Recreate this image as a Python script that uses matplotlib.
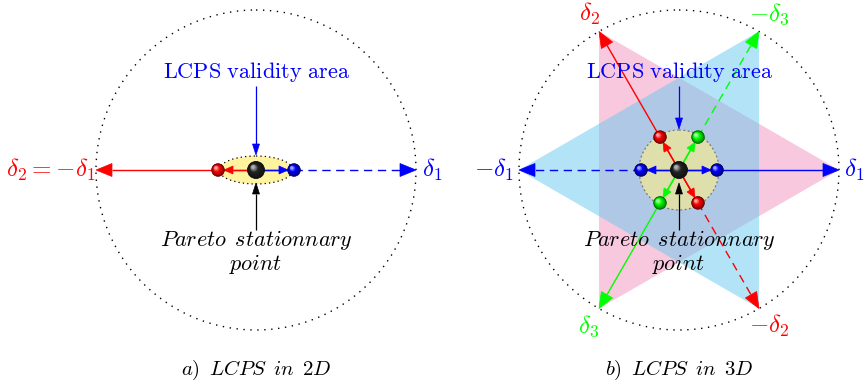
import numpy as np
import matplotlib.pyplot as plt
from matplotlib.patches import Circle, Ellipse, Polygon
from matplotlib.colors import to_rgb

plt.rcParams['mathtext.fontset'] = 'cm'

# layout of the two panels (pixel units, y grows downwards)
panel_x = [256, 679]
panel_y = 170
outer_radius = 160
ball_offset = 38
validity_radius = 40
ellipse_size = (74, 28)

# directions in 3D panel: angle, colour, label of + and - directions
dir_angles = [0, 120, 240]
dir_colors = ['blue', 'red', 'lime']
dir_labels = [r'$\delta_1$', r'$\delta_2$', r'$\delta_3$']
neg_labels = [r'$-\delta_1$', r'$-\delta_2$', r'$-\delta_3$']

fig = plt.figure(figsize=(8.65, 3.88), dpi=100)
ax = fig.add_axes([0, 0, 1, 1])
ax.set_xlim(0, 865)
ax.set_ylim(388, 0)
ax.set_aspect('equal')
ax.axis('off')


def unit(angle):
    a = np.deg2rad(angle)
    return np.array([np.cos(a), -np.sin(a)])


def head(tip, u, length, width, color, z=5):
    n = np.array([-u[1], u[0]])
    base = tip - length * u
    ax.add_patch(Polygon([tip, base + n * width / 2, base - n * width / 2],
                         closed=True, fc=color, ec=color, lw=0.5, zorder=z))
    return base


def arrow(p0, p1, color, ls='-', length=16, width=13, lw=1.0, z=4):
    p0, p1 = np.asarray(p0, float), np.asarray(p1, float)
    u = (p1 - p0) / np.linalg.norm(p1 - p0)
    base = head(p1, u, length, width, color, z + 0.5)
    ax.plot([p0[0], base[0]], [p0[1], base[1]], color=color, ls=ls, lw=lw,
            zorder=z, solid_capstyle='butt', dash_capstyle='butt')


def ball(x, y, r, color):
    c = np.array(to_rgb(color))
    n = 12
    for i in range(n):
        f = i / (n - 1)
        rr = r * (1 - 0.8 * f)
        if f < 0.6:
            shade = c * (0.55 + 0.75 * f)
        else:
            shade = c + (1 - c) * (f - 0.6) * 1.6
        shade = np.clip(shade, 0, 1)
        ax.add_patch(Circle((x - 0.35 * r * f, y - 0.35 * r * f), rr,
                            fc=shade, ec='none', zorder=8 + i * 0.01))
    ax.add_patch(Circle((x, y), r, fc='none', ec=c * 0.4, lw=0.6, zorder=8.5))


def outer_circle(cx):
    ax.add_patch(Circle((cx, panel_y), outer_radius, fc='none', ec='black',
                        lw=1.0, ls=(0, (1, 4)), zorder=3))


def annotations(cx, top_tip, bottom_tip):
    ax.text(cx, 72, r'$\mathrm{LCPS\ validity\ area}$', color='blue',
            fontsize=16, ha='center', va='center', zorder=10)
    arrow((cx, 86), (cx, top_tip), 'blue', length=11, width=7, lw=0.9, z=9)
    ax.text(cx, 240, r'$\mathit{Pareto\,\ stationnary}$', fontsize=16,
            ha='center', va='center', zorder=10)
    ax.text(cx, 264, r'$\mathit{point}$', fontsize=16, ha='center', va='center',
            zorder=10)
    arrow((cx, 230), (cx, bottom_tip), 'black', length=11, width=7, lw=0.9, z=9)


# ---- a) LCPS in 2D ----
cx = panel_x[0]
outer_circle(cx)
ax.add_patch(Ellipse((cx, panel_y), *ellipse_size, fc='#fff3a0', ec='none', zorder=2))
ax.add_patch(Ellipse((cx, panel_y), *ellipse_size, fc='none', ec='black',
                     lw=0.9, ls=(0, (1, 2.5)), zorder=2.5))
c0 = np.array([cx, panel_y], float)
arrow(c0, c0 + outer_radius * unit(180), 'red')
arrow(c0 + ball_offset * unit(0), c0 + outer_radius * unit(0), 'blue', ls=(0, (6, 4)))
ax.plot([c0[0], c0[0] + ball_offset], [panel_y, panel_y], color='blue', lw=1.0, zorder=4)
for ang, col in [(180, 'red'), (0, 'blue')]:
    arrow(c0, c0 + (ball_offset - 6) * unit(ang), col, length=9, width=8, z=6)
    p = c0 + ball_offset * unit(ang)
    ball(p[0], p[1], 6.3, col)
ball(cx, panel_y, 8.5, '#222222')
ax.text(cx - outer_radius - 1, panel_y, r'$\delta_2 = -\delta_1$', color='red',
        fontsize=18, ha='right', va='center')
ax.text(cx + outer_radius + 6, panel_y, r'$\delta_1$', color='blue',
        fontsize=18, ha='left', va='center')
annotations(cx, panel_y - 15, panel_y + 13)
ax.text(cx, 370, r'$\mathit{a)\,\ LCPS\,\ in\,\ 2D}$', fontsize=15,
        ha='center', va='center')

# ---- b) LCPS in 3D ----
cx = panel_x[1]
c0 = np.array([cx, panel_y], float)
pos_tri = [c0 + outer_radius * unit(a) for a in dir_angles]
neg_tri = [c0 + outer_radius * unit(a + 180) for a in dir_angles]
ax.add_patch(Polygon(pos_tri, closed=True, fc='#f7c8de', ec='none', zorder=1))
ax.add_patch(Polygon(neg_tri, closed=True, fc='#69c9ef', ec='none', alpha=0.5, zorder=1.1))
outer_circle(cx)
ax.add_patch(Circle((cx, panel_y), validity_radius, fc='#fff082', alpha=0.6,
                    ec='none', zorder=2))
ax.add_patch(Circle((cx, panel_y), validity_radius, fc='none', ec='#777777',
                    lw=0.9, ls=(0, (1.5, 2)), zorder=2.5))

for ang, col, lab, nlab in zip(dir_angles, dir_colors, dir_labels, neg_labels):
    for a, ls, text in [(ang, '-', lab), (ang + 180, (0, (6, 4)), nlab)]:
        u = unit(a)
        arrow(c0 + ball_offset * u, c0 + outer_radius * u, col, ls=ls)
        ax.plot([cx, cx + ball_offset * u[0]], [panel_y, panel_y + ball_offset * u[1]],
                color=col, lw=1.0, zorder=4)
        arrow(c0, c0 + (ball_offset - 6) * u, col, length=9, width=8, z=6)
        p = c0 + ball_offset * u
        ball(p[0], p[1], 6.3, col)
        if a % 180 == 0:
            tp = c0 + (outer_radius + 5) * u
            ax.text(tp[0], tp[1], text, color=col, fontsize=18, va='center',
                    ha='left' if u[0] > 0 else 'right')
        else:
            tp = c0 + 180 * u
            ax.text(tp[0], tp[1], text, color=col, fontsize=18,
                    ha='center', va='center')
ball(cx, panel_y, 8.5, '#222222')
annotations(cx, panel_y - validity_radius - 1, panel_y + 13)
ax.text(cx, 370, r'$\mathit{b)\,\ LCPS\,\ in\,\ 3D}$', fontsize=15,
        ha='center', va='center')

fig.savefig('out.png', dpi=100)
